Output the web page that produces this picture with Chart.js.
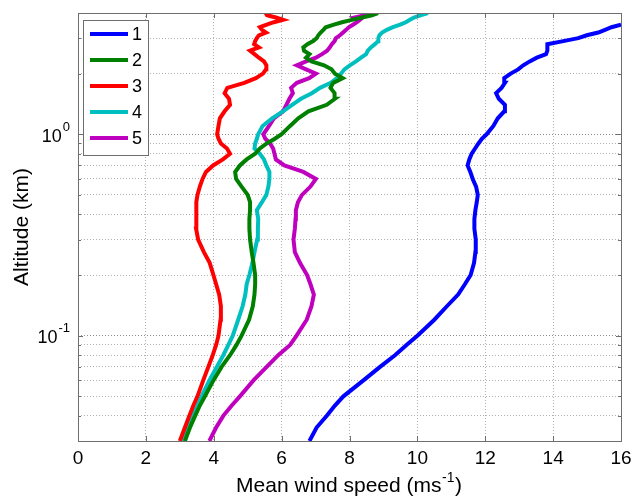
<!DOCTYPE html>
<html>
<head>
<meta charset="utf-8">
<script src="https://cdn.jsdelivr.net/npm/chart.js"></script>
<style>
  body { margin: 0; background: #fff; }
  #wrap { width: 634px; height: 496px; }
</style>
</head>
<body>
<div id="wrap"><canvas id="myChart" width="634" height="496"></canvas></div>
<script>
// altitude levels (km), shared by all five profiles
const altitude = [0.03, 0.035, 0.04, 0.045, 0.05, 0.06, 0.07, 0.08, 0.09, 0.1,
  0.12, 0.14, 0.16, 0.18, 0.2, 0.23, 0.26, 0.3, 0.34, 0.38,
  0.42, 0.46, 0.5, 0.55, 0.6, 0.65, 0.7, 0.75, 0.8, 0.85, 0.9, 0.95,
  1.0, 1.1, 1.2, 1.3, 1.4, 1.5, 1.6, 1.7, 1.8, 1.9,
  2.0, 2.1, 2.2, 2.3, 2.4, 2.5, 2.6, 2.7, 2.8, 2.9,
  3.0, 3.1, 3.2, 3.3, 3.4, 3.5, 3.6, 3.7, 3.8, 3.9, 4.0];

const speed1 = [6.82, 7.03, 7.33, 7.57, 7.82, 8.41, 8.9, 9.34, 9.68, 10.0,
  10.5, 10.87, 11.2, 11.4, 11.57, 11.67, 11.71, 11.72, 11.68, 11.68,
  11.71, 11.75, 11.78, 11.73, 11.63, 11.56, 11.48, 11.53, 11.6, 11.7, 11.8, 11.9,
  12.04, 12.24, 12.37, 12.56, 12.58, 12.4, 12.32, 12.48, 12.58, 12.56,
  12.75, 12.97, 13.12, 13.31, 13.52, 13.79, 13.83, 13.83, 13.83, 14.3,
  14.74, 14.99, 15.33, 15.53, 15.72, 16.0, null, null, null, null, null];

const speed2 = [3.15, 3.3, 3.45, 3.59, 3.74, 3.99, 4.23, 4.48, 4.67, 4.82,
  5.04, 5.15, 5.2, 5.22, 5.22, 5.17, 5.12, 5.07, 5.05, 5.05,
  5.07, 5.07, 5.0, 4.82, 4.66, 4.63, 4.77, 4.97, 5.22, 5.36, 5.56, 5.8,
  6.0, 6.25, 6.49, 6.79, 7.33, 7.57, 7.56, 7.44, 7.52, 7.8,
  7.57, 7.47, 7.25, 6.88, 6.72, 6.82, 6.66, 6.64, 6.76, 6.93,
  7.03, 7.08, 7.15, 7.23, 7.3, 7.54, 7.78, 8.07, 8.37, 8.66, 8.84];

const speed3 = [3.0, 3.15, 3.28, 3.4, 3.52, 3.69, 3.84, 3.97, 4.07, 4.14,
  4.2, 4.21, 4.16, 4.07, 3.99, 3.88, 3.71, 3.54, 3.48, 3.49,
  3.48, 3.49, 3.52, 3.59, 3.67, 3.77, 3.98, 4.27, 4.48, 4.39, 4.21, 4.14,
  4.1, 4.14, 4.18, 4.32, 4.48, 4.45, 4.32, 4.4, 4.9, 5.24,
  5.45, 5.54, 5.55, 5.48, 5.33, 5.2, 5.07, 5.33, 5.19, 5.22,
  5.27, 5.33, 5.54, 5.42, 5.36, 5.56, 5.77, 6.04, 5.83, 5.57, 5.53];

const speed4 = [3.08, 3.22, 3.38, 3.52, 3.64, 3.87, 4.09, 4.28, 4.43, 4.56,
  4.72, 4.85, 4.93, 4.97, 5.05, 5.14, 5.2, 5.28, 5.3, 5.31,
  5.27, 5.42, 5.55, 5.61, 5.64, 5.64, 5.55, 5.48, 5.36, 5.2, 5.22, 5.27,
  5.31, 5.44, 5.72, 6.04, 6.31, 6.57, 6.89, 7.13, 7.45, 7.63,
  7.75, 7.85, 8.01, 8.19, 8.34, 8.49, 8.54, 8.63, 8.75, 8.84,
  8.85, 8.88, 8.96, 9.1, 9.28, 9.49, 9.66, 9.78, 9.9, 10.11, 10.31];

const speed5 = [3.87, 4.07, 4.28, 4.53, 4.77, 5.17, 5.56, 5.9, 6.25, 6.44,
  6.74, 6.88, 6.95, 6.85, 6.75, 6.54, 6.39, 6.35, 6.39, 6.41,
  6.42, 6.48, 6.6, 6.85, 7.01, 6.64, 6.08, 5.83, 5.79, 5.75, 5.66, 5.52,
  5.46, 5.63, 5.77, 6.04, 6.14, 6.23, 6.33, 6.28, 6.45, 6.81,
  7.01, 6.72, 6.45, 6.72, 7.01, 7.19, 7.34, 7.42, 7.48, 7.56,
  7.6, 7.72, 7.81, 7.9, 7.98, 8.1, 8.22, 8.31, 8.16, 8.46, 8.66];

const seriesNames = ['1', '2', '3', '4', '5'];
const seriesColors = ['#0000ff', '#008000', '#ff0000', '#00bfbf', '#bf00bf'];
const xTicks = [0, 2, 4, 6, 8, 10, 12, 14, 16];
const yTicks = [0.03, 0.04, 0.05, 0.06, 0.07, 0.08, 0.09, 0.1,
  0.2, 0.3, 0.4, 0.5, 0.6, 0.7, 0.8, 0.9, 1, 2, 3, 4];
const xTitle = 'Mean wind speed (ms';
const xTitleSup = '-1';
const yTitle = 'Altitude (km)';

const FONT = "'Liberation Sans', Arial, Helvetica, sans-serif";
Chart.defaults.font.family = FONT;
Chart.defaults.color = '#000';

function toPoints(speeds) {
    let pts = [];
    speeds.forEach((s, i) => { if (s !== null) pts.push({ x: s, y: altitude[i] }); });
    return pts;
}

function isDecade(v) {
    let l = Math.log10(v);
    return Math.abs(l - Math.round(l)) < 1e-9;
}

// MATLAB-like box, inner ticks, 10^n labels, x title and legend
const boxPlugin = {
    id: 'boxPlugin',
    afterDraw(chart) {
        let c = chart.ctx, a = chart.chartArea;
        let xs = chart.scales.x, ys = chart.scales.y;
        c.save();
        c.strokeStyle = '#6e6e6e';
        c.lineWidth = 1;
        c.beginPath();
        xTicks.forEach(v => {
            let px = Math.round(xs.getPixelForValue(v)) + 0.5;
            c.moveTo(px, a.bottom); c.lineTo(px, a.bottom - 5);
            c.moveTo(px, a.top); c.lineTo(px, a.top + 5);
        });
        yTicks.forEach(v => {
            let py = Math.round(ys.getPixelForValue(v)) + 0.5;
            let len = isDecade(v) ? 5 : 3;
            c.moveTo(a.left, py); c.lineTo(a.left + len, py);
            c.moveTo(a.right, py); c.lineTo(a.right - len, py);
        });
        c.stroke();
        c.strokeRect(Math.round(a.left) + 0.5, Math.round(a.top) + 0.5,
            Math.round(a.right - a.left), Math.round(a.bottom - a.top));

        // y labels 10^n
        c.fillStyle = '#000';
        c.textBaseline = 'alphabetic';
        yTicks.filter(isDecade).forEach(v => {
            let py = ys.getPixelForValue(v);
            let e = String(Math.round(Math.log10(v)));
            c.font = '13px ' + FONT;
            let we = c.measureText(e).width;
            c.textAlign = 'left';
            c.fillText(e, a.left - 8 - we, py - 3.5);
            c.font = '18px ' + FONT;
            c.textAlign = 'right';
            c.fillText('10', a.left - 9 - we, py + 7.5);
        });

        // x title with superscript
        c.textAlign = 'left';
        c.font = '21px ' + FONT;
        let w1 = c.measureText(xTitle).width;
        let w3 = c.measureText(')').width;
        c.font = '14px ' + FONT;
        let w2 = c.measureText(xTitleSup).width;
        let x0 = (a.left + a.right) / 2 - (w1 + w2 + w3) / 2 - 1;
        let base = 491.5;
        c.font = '21px ' + FONT;
        c.fillText(xTitle, x0, base);
        c.fillText(')', x0 + w1 + w2 + 1, base);
        c.font = '14px ' + FONT;
        c.fillText(xTitleSup, x0 + w1 + 0.5, base - 10);

        // legend box
        let lx = a.left + 5, ly = a.top + 7, lw = 65, lh = 135;
        c.fillStyle = '#fff';
        c.fillRect(lx, ly, lw, lh);
        c.strokeStyle = '#6e6e6e';
        c.lineWidth = 1;
        c.strokeRect(lx + 0.5, ly + 0.5, lw, lh);
        c.font = '18px ' + FONT;
        c.textBaseline = 'middle';
        chart.data.datasets.forEach((ds, i) => {
            let yy = ly + 14 + i * 26;
            c.strokeStyle = ds.borderColor;
            c.lineWidth = 4;
            c.beginPath();
            c.moveTo(lx + 7, yy); c.lineTo(lx + 45, yy);
            c.stroke();
            c.fillStyle = '#000';
            c.fillText(ds.label, lx + 49, yy + 1);
        });
        c.restore();
    }
};

const speeds = [speed1, speed2, speed3, speed4, speed5];

const ctx = document.getElementById('myChart').getContext('2d');
let myChart = new Chart(ctx, {
    type: 'scatter',
    data: {
        datasets: speeds.map((s, i) => ({
            label: seriesNames[i],
            data: toPoints(s),
            showLine: true,
            borderColor: seriesColors[i],
            backgroundColor: seriesColors[i],
            borderWidth: 4,
            pointRadius: 0,
            tension: 0
        }))
    },
    options: {
        responsive: false,
        animation: false,
        devicePixelRatio: 1,
        layout: { padding: { top: 13, right: 13, left: 0, bottom: 0 } },
        plugins: { legend: { display: false }, tooltip: { enabled: false } },
        scales: {
            x: {
                type: 'linear', min: 0, max: 16,
                afterBuildTicks: s => { s.ticks = xTicks.map(v => ({ value: v })); },
                afterFit: s => { s.height = 55; s.paddingLeft = 0; s.paddingRight = 0; },
                ticks: { font: { size: 19 }, padding: 6, autoSkip: false, maxRotation: 0 },
                grid: { color: '#b0b0b0', drawTicks: false },
                border: { display: false, dash: [1, 2] },
                title: { display: false }
            },
            y: {
                type: 'logarithmic', min: 0.03, max: 4,
                afterBuildTicks: s => { s.ticks = yTicks.map(v => ({ value: v })); },
                afterFit: s => { s.width = 78; s.paddingTop = 0; s.paddingBottom = 0; },
                ticks: { autoSkip: false, callback: () => '' },
                grid: { color: ctx => isDecade(ctx.tick.value) ? '#8a8a8a' : '#b0b0b0', drawTicks: false },
                border: { display: false, dash: [1, 2] },
                title: { display: true, text: yTitle, font: { size: 21 }, padding: { top: 10, bottom: 0 } }
            }
        }
    },
    plugins: [boxPlugin]
});
</script>
</body>
</html>
